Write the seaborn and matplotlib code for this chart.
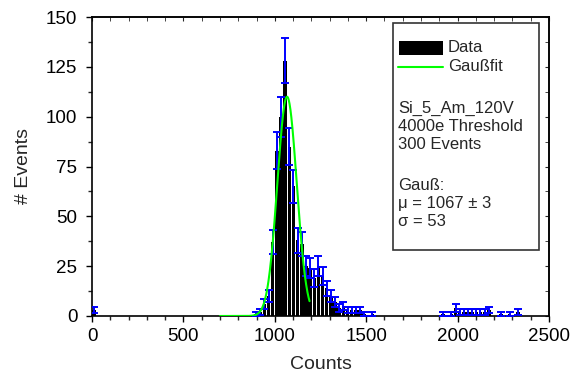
import numpy as np
import pandas as pd
import seaborn as sns
import matplotlib.pyplot as plt
from matplotlib.ticker import MultipleLocator
from matplotlib.lines import Line2D
from matplotlib.patches import Rectangle

# ---- data ----
bin_centers = [11, 898, 920, 943, 966, 989, 1011, 1034, 1057, 1080, 1102,
               1125, 1148, 1170, 1193, 1216, 1239, 1261, 1284, 1307, 1330,
               1352, 1375, 1398, 1420, 1443, 1466, 1489, 1534,
               1920, 1966, 1989, 2011, 2034, 2057, 2080, 2102, 2125, 2148,
               2170, 2239, 2284, 2330]
counts = [3, 1, 2, 6, 10, 37, 83, 100, 128, 85, 65,
          38, 36, 25, 24, 19, 25, 20, 14, 10, 7,
          4, 5, 3, 3, 3, 3, 1, 1,
          1, 1, 4, 2, 2, 2, 2, 2, 2, 2,
          3, 1, 1, 2]
n_bins = 110
x_range = (0, 2500)

fit_mu = 1067
fit_sigma = 53
fit_amp = 110
fit_span = (700, 1190)

x_ticks = [0, 500, 1000, 1500, 2000, 2500]
y_ticks = [0, 25, 50, 75, 100, 125, 150]

legend_lines = ["Si_5_Am_120V", "4000e Threshold", "300 Events"]
fit_lines = ["Gauß:", "μ = 1067 ± 3", "σ = 53"]

# ---- style ----
sns.set_style("ticks")
plt.rcParams['font.family'] = ['Liberation Sans', 'DejaVu Sans']

W, H = 574, 380
fig = plt.figure(figsize=(W / 100, H / 100), dpi=100)
L, R, T, B = 92, 549, 17, 316
ax = fig.add_axes([L / W, 1 - B / H, (R - L) / W, (B - T) / H])

df = pd.DataFrame({"Counts": bin_centers, "Events": counts})
sns.histplot(data=df, x="Counts", weights="Events", bins=n_bins,
             binrange=x_range, shrink=0.85, color="black", alpha=1,
             edgecolor="none", ax=ax)

ax.errorbar(bin_centers, counts, yerr=np.sqrt(counts), fmt="none",
            ecolor="#0000FF", elinewidth=1.4, capsize=2.8, capthick=1.4,
            zorder=3)

xf = np.linspace(fit_span[0], fit_span[1], 400)
yf = fit_amp * np.exp(-(xf - fit_mu) ** 2 / (2 * fit_sigma ** 2))
sns.lineplot(x=xf, y=yf, color="#00FF00", lw=1.5, ax=ax, zorder=4)

ax.set_xlim(*x_range)
ax.set_ylim(0, 150)
ax.set_xticks(x_ticks)
ax.set_yticks(y_ticks)
ax.xaxis.set_minor_locator(MultipleLocator(100))
ax.yaxis.set_minor_locator(MultipleLocator(12.5))
ax.tick_params(axis="both", which="major", direction="out", length=4.5,
               width=1, labelsize=13.5, colors="black", pad=4)
ax.tick_params(axis="both", which="minor", direction="out", length=3,
               width=1)
ax.tick_params(axis="y", which="major", pad=6)
for s in ax.spines.values():
    s.set_visible(True)
    s.set_linewidth(1.2)
    s.set_color("black")

secx = ax.secondary_xaxis("top")
secx.set_xticks(x_ticks)
secx.xaxis.set_minor_locator(MultipleLocator(100))
secx.tick_params(which="both", direction="in", labeltop=False, length=3)
secx.spines["top"].set_linewidth(1.2)
secy = ax.secondary_yaxis("right")
secy.set_yticks(y_ticks)
secy.yaxis.set_minor_locator(MultipleLocator(12.5))
secy.tick_params(which="both", direction="in", labelright=False, length=3)
secy.spines["right"].set_linewidth(1.2)

ax.set_xlabel("Counts", fontsize=14, labelpad=8)
ax.set_ylabel("# Events", fontsize=14, labelpad=10)


def fx(px):
    return px / W


def fy(py):
    return 1 - py / H


# legend box
fig.add_artist(Rectangle((fx(393), fy(250)), (539 - 393) / W, (250 - 23) / H,
                         transform=fig.transFigure, fill=False,
                         edgecolor="#333333", lw=1.2))
fig.add_artist(Rectangle((fx(399), fy(54.5)), (443 - 399) / W, (54.5 - 41) / H,
                         transform=fig.transFigure, facecolor="black",
                         edgecolor="none"))
fig.add_artist(Line2D([fx(398), fx(443)], [fy(66.7), fy(66.7)],
                      transform=fig.transFigure, color="#00FF00", lw=1.5))
fs = 12
fig.text(fx(448), fy(48), "Data", fontsize=fs, va="center", ha="left")
fig.text(fx(448), fy(66.7), "Gaußfit", fontsize=fs, va="center", ha="left")
for i, t in enumerate(legend_lines):
    fig.text(fx(398), fy(108.3 + 18.3 * i), t, fontsize=fs, va="center", ha="left")
for i, t in enumerate(fit_lines):
    fig.text(fx(398), fy(185 + 18.3 * i), t, fontsize=fs, va="center", ha="left")

fig.savefig("out.png", dpi=100)
